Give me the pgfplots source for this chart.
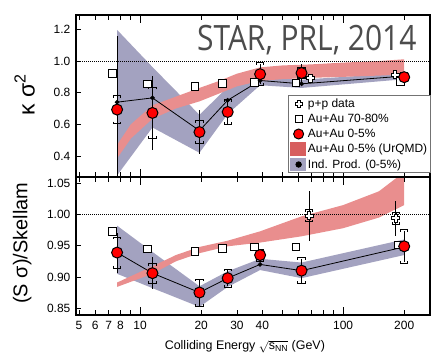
\documentclass[border=0pt]{standalone}
\usepackage{fontspec}
\setmainfont{Liberation Sans}
\newfontfamily\starfont{Open Sans}
\usepackage{amsmath}
\usepackage{graphicx}
\usepackage{pgfplots}
\pgfplotsset{compat=1.18}

\definecolor{lav}{RGB}{163,162,192}
\definecolor{urq}{RGB}{233,142,142}
\definecolor{urqleg}{RGB}{215,95,95}

\pgfdeclareplotmark{pcross}{%
  \pgfpathmoveto{\pgfqpoint{-0.4\pgfplotmarksize}{\pgfplotmarksize}}%
  \pgfpathlineto{\pgfqpoint{0.4\pgfplotmarksize}{\pgfplotmarksize}}%
  \pgfpathlineto{\pgfqpoint{0.4\pgfplotmarksize}{0.4\pgfplotmarksize}}%
  \pgfpathlineto{\pgfqpoint{\pgfplotmarksize}{0.4\pgfplotmarksize}}%
  \pgfpathlineto{\pgfqpoint{\pgfplotmarksize}{-0.4\pgfplotmarksize}}%
  \pgfpathlineto{\pgfqpoint{0.4\pgfplotmarksize}{-0.4\pgfplotmarksize}}%
  \pgfpathlineto{\pgfqpoint{0.4\pgfplotmarksize}{-\pgfplotmarksize}}%
  \pgfpathlineto{\pgfqpoint{-0.4\pgfplotmarksize}{-\pgfplotmarksize}}%
  \pgfpathlineto{\pgfqpoint{-0.4\pgfplotmarksize}{-0.4\pgfplotmarksize}}%
  \pgfpathlineto{\pgfqpoint{-\pgfplotmarksize}{-0.4\pgfplotmarksize}}%
  \pgfpathlineto{\pgfqpoint{-\pgfplotmarksize}{0.4\pgfplotmarksize}}%
  \pgfpathlineto{\pgfqpoint{-0.4\pgfplotmarksize}{0.4\pgfplotmarksize}}%
  \pgfpathclose
  \pgfusepathqfillstroke}
% bracket in the error-bar frame: local x points away from the data point
\pgfdeclareplotmark{capdir}{%
  \pgfpathmoveto{\pgfqpoint{-0.6\pgfplotmarksize}{-\pgfplotmarksize}}%
  \pgfpathlineto{\pgfqpoint{0pt}{-\pgfplotmarksize}}%
  \pgfpathlineto{\pgfqpoint{0pt}{\pgfplotmarksize}}%
  \pgfpathlineto{\pgfqpoint{-0.6\pgfplotmarksize}{\pgfplotmarksize}}%
  \pgfusepathqstroke}

\pgfplotsset{
  mystat/.style={only marks, mark=none, forget plot,
    /pgfplots/error bars/y dir=both, /pgfplots/error bars/y explicit, /pgfplots/error bars/error mark=none,
    /pgfplots/error bars/error bar style={draw=black, line width=0.9bp}},
  mysys/.style={only marks, mark=none, forget plot,
    /pgfplots/error bars/y dir=both, /pgfplots/error bars/y explicit, /pgfplots/error bars/error mark=capdir,
    /pgfplots/error bars/error bar style={draw=none},
    /pgfplots/error bars/error mark options={draw=black, line width=0.9bp, mark size=3.6bp}},
  myredc/.style={only marks, forget plot, mark=*, mark size=5.5bp,
    mark options={fill=red, draw=black, line width=1bp}},
  mysq/.style={only marks, forget plot, mark=square*, mark size=3.8bp,
    mark options={fill=white, draw=black, line width=0.8bp}},
  mypp/.style={only marks, forget plot, mark=pcross, mark size=4bp,
    mark options={fill=white, draw=black, line width=0.8bp}},
  myind/.style={forget plot, black, line width=0.8bp, mark=*, mark size=1.9bp},
}

\begin{document}
\begin{tikzpicture}

% ---------------- bottom panel ----------------
\begin{axis}[scale only axis, width=354bp, xmode=log, xmin=4.83, xmax=268,
  axis on top,
  axis line style={line width=1.2bp, black},
  every tick/.style={black, line width=0.8bp},
  major tick length=5bp, minor tick length=5bp,
  tick align=inside,
  xtick={5,6,7,8,20,30,40,200},
  minor xtick={9,50,60,70,80,90},
  extra x ticks={10,100},
  extra x tick style={major tick length=8bp},
  ytick pos=left,
  tick label style={font=\fontsize{12}{14}\selectfont, text=black},
  yticklabel style={anchor=east, inner sep=0pt, xshift=-5.5bp},
  xticklabel style={anchor=base, inner sep=0pt, yshift=-14.3bp},
  at={(76bp,40bp)}, anchor=south west, height=138bp,
  ymin=0.839, ymax=1.060,
  ytick={0.85,0.90,0.95,1.00,1.05},
  yticklabels={0.85,0.90,0.95,1.00,1.05},
  xticklabels={5,6,7,8,20,30,40,200},
  extra x tick labels={10,100},
  xlabel={Colliding Energy $\sqrt{\text{s}_{\text{NN}}}$ (GeV)},
  every axis x label/.style={at={(axis description cs:0.477,0)}, anchor=base, inner sep=0pt, yshift=-34.5bp, font=\fontsize{12.5}{14}\selectfont},
  ylabel={(S σ)/Skellam},
  every axis y label/.style={at={(axis description cs:-0.125,0.52)}, rotate=90, anchor=south, inner sep=0pt, font=\fontsize{20}{22}\selectfont},
]
% Ind. Prod. band
\addplot[fill=lav, draw=none, forget plot] coordinates {
 (7.7,0.905) (11.5,0.882) (19.6,0.852) (27,0.884) (39,0.911) (62.4,0.898) (200,0.935)
 (200,0.960) (62.4,0.923) (39,0.929) (27,0.909) (19.6,0.885) (11.5,0.940) (7.7,0.982)} -- cycle;
% UrQMD band
\addplot[fill=urq, draw=none, forget plot] coordinates {
 (7.7,0.884) (11.5,0.905) (15,0.925) (19.6,0.938) (27,0.949) (39,0.955) (62.4,0.965) (100,0.978) (150,0.995) (200,1.015)
 (200,1.068) (150,1.037) (100,1.015) (62.4,0.997) (39,0.973) (27,0.958) (19.6,0.948) (15,0.935) (11.5,0.917) (7.7,0.891)} -- cycle;
% unity line
\addplot[forget plot, black, line width=0.9bp, dash pattern=on 1bp off 1bp] coordinates {(4.83,1) (268,1)};
% Au+Au 70-80%
\addplot[mysq] coordinates {(7.31,0.973) (10.86,0.945) (18.6,0.941) (25.4,0.946) (36.6,0.948) (58.5,0.948) (187,0.951)};
% p+p
\addplot[mystat] coordinates {(68,0.998) +- (0,0.04) (182,0.994) +- (0,0.028)};
\addplot[mysys] coordinates {(68,0.998) +- (0,0.008) (182,0.994) +- (0,0.008)};
\addplot[mypp] coordinates {(68,0.998) (182,0.994)};
% Ind. Prod. line
\addplot[myind] coordinates {(7.7,0.939) (11.5,0.906) (19.6,0.875) (27,0.898) (39,0.920) (62.4,0.910) (200,0.948)};
% Au+Au 0-5%
\addplot[mystat] coordinates {(7.7,0.939) +- (0,0.032) (11.5,0.906) +- (0,0.026) (19.6,0.875) +- (0,0.022) (27,0.898) +- (0,0.013) (39,0.935) +- (0,0.008) (62.4,0.910) +- (0,0.012) (200,0.949) +- (0,0.010)};
\addplot[mysys] coordinates {(7.7,0.939) +- (0,0.023) (11.5,0.906) +- (0,0.014) (19.6,0.875) +- (0,0.020) (27,0.898) +- (0,0.013) (39,0.935) +- (0,0.008) (62.4,0.910) +- (0,0.019) (200,0.949) +- (0,0.025)};
\addplot[myredc] coordinates {(7.7,0.939) (11.5,0.906) (19.6,0.875) (27,0.898) (39,0.935) (62.4,0.910) (200,0.949)};
\end{axis}

% ---------------- top panel ----------------
\begin{axis}[scale only axis, width=354bp, xmode=log, xmin=4.83, xmax=268,
  axis on top,
  axis line style={line width=1.2bp, black},
  every tick/.style={black, line width=0.8bp},
  major tick length=5bp, minor tick length=5bp,
  tick align=inside,
  xtick={5,6,7,8,20,30,40,200},
  minor xtick={9,50,60,70,80,90},
  extra x ticks={10,100},
  extra x tick style={major tick length=8bp},
  ytick pos=left,
  tick label style={font=\fontsize{12}{14}\selectfont, text=black},
  yticklabel style={anchor=east, inner sep=0pt, xshift=-5.5bp},
  at={(76bp,178bp)}, anchor=south west, height=162bp,
  ymin=0.267, ymax=1.291,
  ytick={0.4,0.6,0.8,1.0,1.2},
  yticklabels={0.4,0.6,0.8,1.0,1.2},
  xticklabels={}, extra x tick labels={},
  ylabel={κ σ\textsuperscript{2}},
  every axis y label/.style={at={(axis description cs:-0.1158,0.51)}, rotate=90, anchor=south, inner sep=0pt, font=\fontsize{23}{25}\selectfont},
  legend style={at={(1.003,0.025)}, anchor=south east, draw=black!55, line width=0.7bp, fill=white,
    font=\fontsize{12}{13.5}\selectfont, inner xsep=1.5bp, inner ysep=1bp, row sep=1.2bp,
    cells={anchor=west}},
  legend cell align=left,
]
\addlegendimage{legend image code/.code={\draw[black] plot[mark=pcross, mark size=3.6bp, mark options={fill=white, draw=black, line width=0.7bp}] coordinates {(5bp,0bp)};}}
\addlegendentry{p+p data}
\addlegendimage{legend image code/.code={\draw[black] plot[mark=square*, mark size=3.6bp, mark options={fill=white, draw=black, line width=0.7bp}] coordinates {(5bp,0bp)};}}
\addlegendentry{Au+Au 70-80\%}
\addlegendimage{legend image code/.code={\draw[black] plot[mark=*, mark size=5bp, mark options={fill=red, draw=black, line width=1bp}] coordinates {(5bp,0bp)};}}
\addlegendentry{Au+Au 0-5\%}
\addlegendimage{legend image code/.code={\fill[urqleg] (-3bp,-6.5bp) rectangle (12bp,6.5bp);}}
\addlegendentry{Au+Au 0-5\% (UrQMD)}
\addlegendimage{legend image code/.code={\fill[lav] (-3bp,-6bp) rectangle (12bp,6bp); \fill[black] (5bp,0bp) circle (2.8bp);}}
\addlegendentry{Ind. Prod. (0-5\%)}

% Ind. Prod. band
\addplot[fill=lav, draw=none, forget plot] coordinates {
 (7.7,0.277) (11.5,0.58) (19.6,0.42) (27,0.665) (39,0.847) (62.4,0.83) (200,0.885)
 (200,0.925) (62.4,0.882) (39,0.907) (27,0.835) (19.6,0.66) (11.5,0.962) (7.7,1.197)} -- cycle;
% UrQMD band
\addplot[fill=urq, draw=none, forget plot] coordinates {
 (7.7,0.385) (9,0.51) (11.5,0.635) (15,0.70) (19.6,0.745) (24,0.79) (30,0.84) (39,0.875) (50,0.885) (70,0.894) (100,0.90) (150,0.908) (200,0.915)
 (200,1.011) (150,1.0) (100,0.99) (70,0.979) (50,0.972) (39,0.96) (30,0.92) (24,0.87) (19.6,0.83) (15,0.775) (11.5,0.72) (9,0.60) (7.7,0.47)} -- cycle;
% unity line
\addplot[forget plot, black, line width=0.9bp, dash pattern=on 1bp off 1bp] coordinates {(4.83,1) (268,1)};
% Au+Au 70-80%
\addplot[mysq] coordinates {(7.31,0.922) (10.86,0.856) (18.6,0.841) (25.4,0.858) (36.6,0.865) (58.5,0.862) (191,0.870)};
% p+p
\addplot[mystat] coordinates {(69,0.892) +- (0,0.02) (180,0.913) +- (0,0.02)};
\addplot[mypp] coordinates {(69,0.892) (180,0.913)};
% Ind. Prod. line
\addplot[myind] coordinates {(7.7,0.740) (11.5,0.767) (19.6,0.560) (27,0.752) (39,0.877) (62.4,0.856) (200,0.905)};
% Au+Au 0-5%
\addplot[mystat] coordinates {(7.7,0.693) +- (0,0.466) (11.5,0.672) +- (0,0.235) (19.6,0.551) +- (0,0.14) (27,0.678) +- (0,0.075) (39,0.917) +- (0,0.06) (62.4,0.924) +- (0,0.06) (200,0.898) +- (0,0.02)};
\addplot[mysys] coordinates {(7.7,0.693) +- (0,0.083) (11.5,0.672) +- (0,0.155) (19.6,0.551) +- (0,0.064) (27,0.678) +- (0,0.07) (39,0.917) +- (0,0.065) (62.4,0.924) +- (0,0.03) (200,0.898) +- (0,0.02)};
\addplot[myredc] coordinates {(7.7,0.693) (11.5,0.672) (19.6,0.551) (27,0.678) (39,0.917) (62.4,0.924) (200,0.898)};

\node[anchor=base east, inner sep=0pt, text=black!70] at (rel axis cs:0.9625,0.783)
  {\scalebox{0.86}[1]{\starfont\fontsize{35}{38}\selectfont STAR, PRL, 2014}};
\end{axis}

\pgfresetboundingbox
\path[use as bounding box] (0bp,0bp) rectangle (431bp,355bp);
\end{tikzpicture}
\end{document}
